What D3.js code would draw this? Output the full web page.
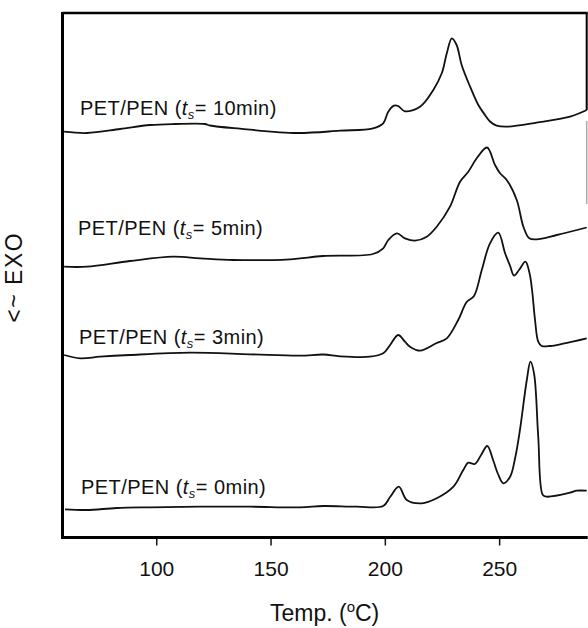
<!DOCTYPE html>
<html>
<head>
<meta charset="utf-8">
<script src="https://cdn.jsdelivr.net/npm/d3@7"></script>
<style>
  body { margin: 0; background: #fff; }
  text { font-family: 'Liberation Sans', Arial, sans-serif; fill: #111; }
</style>
</head>
<body>
<div class="chart"></div>
<script>
// DSC traces: temperature (C) and heat flow (a.u., shifted per trace)
const temp10 = [59.7, 69.7, 84.2, 97.3, 108.2, 121.3, 123.5, 136.6, 161.6, 180.4, 194.8, 199.3, 201.5, 204.0, 205.8, 208.8, 215.4, 221.2, 224.9, 227.1, 229.3, 231.4, 233.6, 237.3, 240.9, 243.8, 246.0, 248.9, 253.3, 266.4, 281.0, 288.3];
const flow10 = [40.58, 40.45, 40.85, 41.25, 41.35, 41.35, 41.2, 40.88, 40.45, 40.68, 40.92, 41.42, 42.58, 43.18, 43.15, 42.62, 43.08, 44.75, 46.42, 48.42, 49.92, 49.25, 47.25, 45.08, 43.25, 42.25, 41.6, 41.18, 41.08, 41.48, 42.08, 42.75];

const temp5 = [59.7, 69.7, 88.5, 107.3, 119.2, 133.6, 158.5, 173.0, 194.8, 199.3, 201.5, 205.3, 208.8, 213.2, 218.3, 222.7, 228.5, 232.9, 236.5, 240.2, 244.7, 248.2, 250.4, 253.3, 257.7, 260.6, 263.2, 266.4, 275.2, 288.3];
const flow5 = [27.08, 27.08, 27.65, 28.08, 27.92, 27.75, 27.82, 28.15, 28.35, 28.92, 29.75, 30.42, 29.92, 29.68, 30.08, 31.08, 33.08, 35.58, 36.58, 37.92, 39.0, 37.25, 36.42, 35.75, 33.75, 31.08, 29.92, 29.82, 30.25, 31.0];

const temp3 = [59.7, 66.7, 75.4, 88.5, 114.8, 141.0, 162.9, 173.1, 180.4, 193.5, 199.3, 202.3, 205.8, 208.8, 211.0, 215.4, 222.7, 227.1, 232.1, 235.8, 239.0, 242.4, 246.0, 249.6, 252.6, 254.8, 256.5, 258.7, 261.5, 263.3, 264.4, 265.7, 267.1, 268.6, 272.3, 288.3];
const flow3 = [18.25, 17.92, 18.08, 18.25, 18.48, 18.32, 18.18, 18.3, 18.12, 18.08, 18.42, 19.25, 20.25, 19.58, 19.08, 18.68, 19.45, 19.92, 21.75, 23.55, 24.15, 26.75, 29.42, 30.48, 28.42, 27.15, 26.2, 26.75, 27.58, 26.42, 24.75, 21.75, 19.58, 19.15, 19.15, 19.92];

const temp0 = [60.1, 69.6, 82.7, 97.3, 119.2, 141.0, 162.9, 173.1, 187.7, 199.3, 202.3, 206.1, 209.6, 216.1, 222.7, 230.0, 234.3, 236.5, 239.4, 242.1, 244.8, 247.5, 249.5, 251.8, 254.8, 257.0, 259.1, 262.1, 263.7, 265.3, 267.1, 269.1, 270.8, 281.0, 283.9, 288.3];
const flow0 = [2.82, 2.75, 2.95, 3.02, 3.08, 3.08, 3.02, 3.15, 3.08, 3.15, 4.05, 5.08, 3.75, 3.42, 3.92, 5.08, 6.75, 7.48, 7.35, 8.25, 9.15, 7.65, 6.35, 5.42, 6.08, 7.95, 10.75, 15.75, 17.58, 16.35, 10.08, 4.25, 4.08, 4.48, 4.68, 4.68];

// Curve labels (hold time t_s) and x ticks
const holdTimes = ['10min', '5min', '3min', '0min'];
const xTicks = [100, 150, 200, 250];

// Set size of SVG
const svgWidth = 588;
const svgHeight = 628;

// Plot box in page pixels
const box = { left: 62.5, right: 586.7, top: 13, bottom: 537.5 };

const svg = d3
  .select('.chart')
  .append('svg')
  .attr('width', svgWidth)
  .attr('height', svgHeight);

// Scales
const xScale = d3.scaleLinear().domain([59, 288.3]).range([box.left, box.right]);
const yScale = d3.scaleLinear().domain([0, 52.45]).range([box.bottom, box.top]);

// Build series
const series = [
  { label: holdTimes[0], temp: temp10, flow: flow10, lx: 80, ly: 114.5 },
  { label: holdTimes[1], temp: temp5, flow: flow5, lx: 78, ly: 235 },
  { label: holdTimes[2], temp: temp3, flow: flow3, lx: 79, ly: 343.5 },
  { label: holdTimes[3], temp: temp0, flow: flow0, lx: 81, ly: 493.5 },
];

const line = d3
  .line()
  .x((d) => xScale(d[0]))
  .y((d) => yScale(d[1]))
  .curve(d3.curveCatmullRom.alpha(0.5));

svg
  .append('g')
  .selectAll('path')
  .data(series)
  .enter()
  .append('path')
  .attr('d', (s) => line(d3.zip(s.temp, s.flow)))
  .attr('fill', 'none')
  .attr('stroke', '#111')
  .attr('stroke-width', 1.8)
  .attr('stroke-linejoin', 'round');

// Frame: left, top, and a partly faded right edge
svg
  .append('line')
  .attr('x1', box.left).attr('x2', box.left)
  .attr('y1', box.top - 1).attr('y2', box.bottom)
  .attr('stroke', '#000').attr('stroke-width', 3);

svg
  .append('line')
  .attr('x1', box.left).attr('x2', box.right + 1)
  .attr('y1', box.top).attr('y2', box.top)
  .attr('stroke', '#000').attr('stroke-width', 2.5);

const lastTop = yScale(flow10[flow10.length - 1]);
svg
  .append('line')
  .attr('x1', box.right).attr('x2', box.right)
  .attr('y1', box.top).attr('y2', lastTop)
  .attr('stroke', '#000').attr('stroke-width', 2);
svg
  .append('line')
  .attr('x1', box.right).attr('x2', box.right)
  .attr('y1', lastTop + 11).attr('y2', lastTop + 94)
  .attr('stroke', '#aaa').attr('stroke-width', 1.5);

// x axis
const bottomAxis = d3.axisBottom(xScale).tickValues(xTicks).tickSize(8).tickPadding(16);
const xAxis = svg
  .append('g')
  .attr('transform', `translate(0, ${box.bottom})`)
  .call(bottomAxis);

xAxis.select('.domain').remove();
xAxis.selectAll('.tick line').attr('stroke', '#111').attr('stroke-width', 1.5);
xAxis
  .selectAll('.tick text')
  .attr('font-size', '21px')
  .attr('font-family', "'Liberation Sans', Arial, sans-serif")
  .attr('fill', '#111');

svg
  .append('line')
  .attr('x1', box.left - 1.5).attr('x2', box.right + 1)
  .attr('y1', box.bottom).attr('y2', box.bottom)
  .attr('stroke', '#000').attr('stroke-width', 3);

// Curve labels
const labels = svg
  .append('g')
  .selectAll('text')
  .data(series)
  .enter()
  .append('text')
  .attr('x', (s) => s.lx)
  .attr('y', (s) => s.ly)
  .attr('font-size', '20px')
  .attr('letter-spacing', '0.45px');

labels.append('tspan').text('PET/PEN (');
labels.append('tspan').attr('font-style', 'italic').text('t');
labels
  .append('tspan')
  .attr('font-style', 'italic')
  .attr('font-size', '13px')
  .attr('dy', 4)
  .text('s');
labels.append('tspan').attr('dy', -4).text((s) => `= ${s.label})`);

// Axis titles
const xTitle = svg
  .append('text')
  .attr('x', (box.left + box.right) / 2)
  .attr('y', 621)
  .attr('text-anchor', 'middle')
  .attr('font-size', '23px');
xTitle.append('tspan').text('Temp. (');
xTitle.append('tspan').attr('font-size', '15px').attr('dy', -9).text('o');
xTitle.append('tspan').attr('dy', 9).text('C)');

svg
  .append('text')
  .attr('transform', `translate(22, ${(box.top + box.bottom) / 2 + 2}) rotate(-90)`)
  .attr('text-anchor', 'middle')
  .attr('font-size', '23px')
  .attr('letter-spacing', '1.5px')
  .text('<~ EXO');
</script>
</body>
</html>
